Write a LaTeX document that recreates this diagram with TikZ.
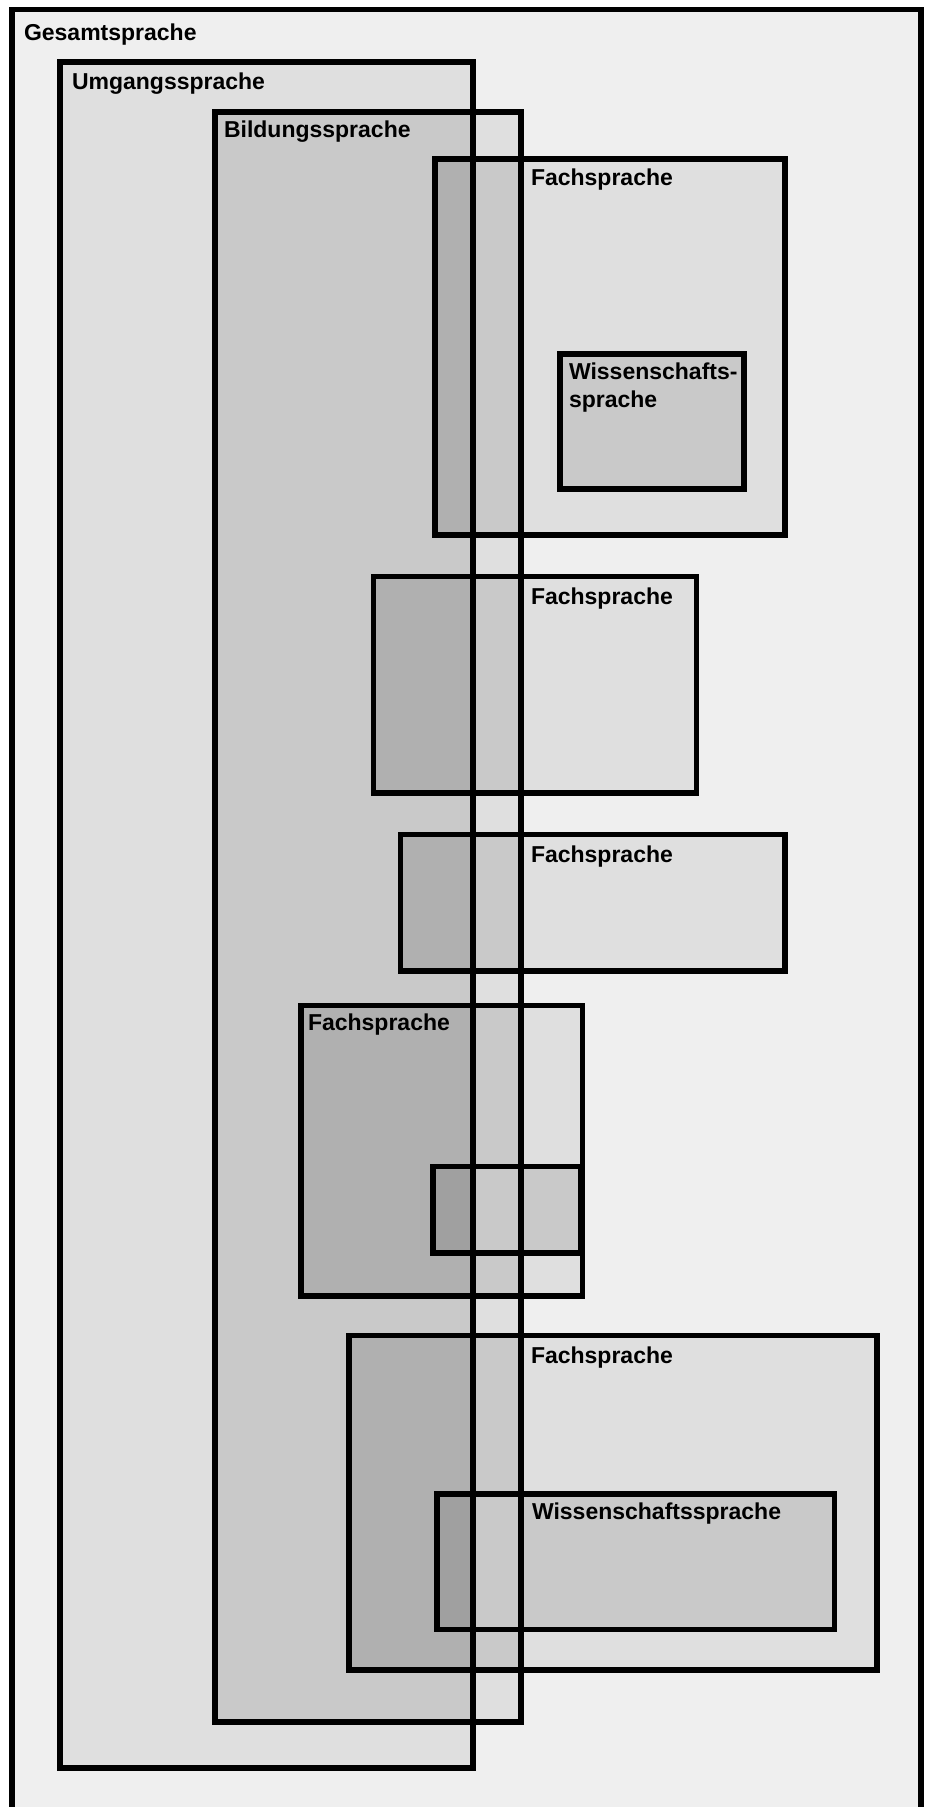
\documentclass[tikz,border=0pt]{standalone}
\usepackage{fontspec}
\setmainfont{Liberation Sans}
\definecolor{c0}{HTML}{EFEFEF}
\definecolor{c1}{HTML}{DFDFDF}
\definecolor{c2}{HTML}{C9C9C9}
\definecolor{c3}{HTML}{B0B0B0}
\definecolor{c4}{HTML}{A0A0A0}
\begin{document}
\begin{tikzpicture}[x=1pt,y=-1pt,
  box/.style={draw=black,line width=5.5pt},
  lbl/.style={font=\bfseries\fontsize{23}{28}\selectfont, anchor=base west, inner sep=0pt, outer sep=0pt}]
\useasboundingbox (0,0) rectangle (929,1807);
\clip (0,0) rectangle (929,1807);
\fill[white] (0,0) rectangle (929,1807);
% fills
\fill[c0] (12,9.5) rectangle (921,1840);
\fill[c1] (60,62) rectangle (473,1768);
\fill[c1] (215,112) rectangle (521,1722);
\fill[c2] (215,112) rectangle (473,1722);
% F1
\fill[c1] (435,159) rectangle (785,535);
\fill[c2] (435,159) rectangle (521,535);
\fill[c3] (435,159) rectangle (473,535);
\fill[c2] (560,354) rectangle (744,489);
% F2
\fill[c1] (373.5,576.5) rectangle (696.5,793);
\fill[c2] (373.5,576.5) rectangle (521,793);
\fill[c3] (373.5,576.5) rectangle (473,793);
% F3
\fill[c1] (400.5,834.5) rectangle (785,971);
\fill[c2] (400.5,834.5) rectangle (521,971);
\fill[c3] (400.5,834.5) rectangle (473,971);
% F4
\fill[c1] (301,1005.5) rectangle (582.5,1296);
\fill[c2] (301,1005.5) rectangle (521,1296);
\fill[c3] (301,1005.5) rectangle (473,1296);
\fill[c2] (433,1166.5) rectangle (581,1253);
\fill[c4] (433,1166.5) rectangle (473,1253);
% F5
\fill[c1] (349,1335.5) rectangle (877,1670);
\fill[c2] (349,1335.5) rectangle (521,1670);
\fill[c3] (349,1335.5) rectangle (473,1670);
\fill[c2] (437,1494) rectangle (834.5,1629.5);
\fill[c4] (437,1494) rectangle (473,1629.5);
% borders
\draw[box] (12,9.5) rectangle (921,1840);
\draw[box] (60,62) rectangle (473,1768);
\draw[box] (215,112) rectangle (521,1722);
\draw[box] (435,159) rectangle (785,535);
\draw[box] (560,354) rectangle (744,489);
\draw[box] (373.5,576.5) rectangle (696.5,793);
\draw[box] (400.5,834.5) rectangle (785,971);
\draw[box] (301,1005.5) rectangle (582.5,1296);
\draw[box] (433,1166.5) rectangle (581,1253);
\draw[box] (349,1335.5) rectangle (877,1670);
\draw[box] (437,1494) rectangle (834.5,1629.5);
% labels
\node[lbl] (lg) at (24,40) {Gesamtsprache};
\node[lbl] (lu) at (72,89) {Umgangssprache};
\node[lbl] (lb) at (224,137) {Bildungssprache};
\node[lbl] (lf1) at (531,185) {Fachsprache};
\node[lbl] (lw1a) at (569,379) {Wissenschafts-};
\node[lbl] (lw1b) at (569,407) {sprache};
\node[lbl] (lf2) at (531,604) {Fachsprache};
\node[lbl] (lf3) at (531,862) {Fachsprache};
\node[lbl] (lf4) at (308,1030) {Fachsprache};
\node[lbl] (lf5) at (531,1363) {Fachsprache};
\node[lbl] (lw2) at (532,1519) {Wissenschaftssprache};
\end{tikzpicture}
\end{document}
